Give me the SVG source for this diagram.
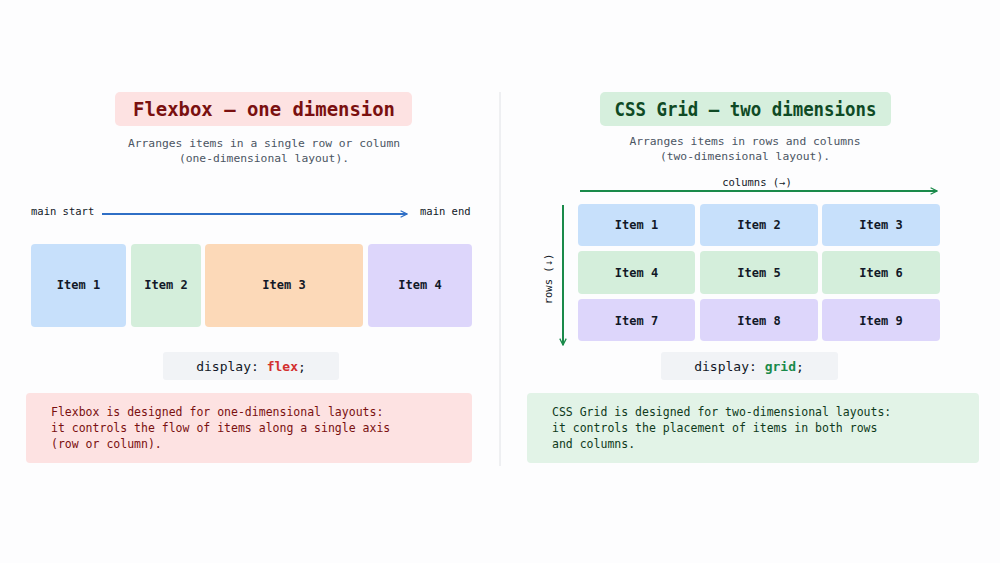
<svg xmlns="http://www.w3.org/2000/svg" width="1000" height="563" viewBox="0 0 1000 563">
<defs>
<style>
text{font-family:"DejaVu Sans Mono","Liberation Mono",monospace}
.title{font-size:19px;font-weight:bold;text-anchor:middle}
.sub{font-size:11.3px;fill:#4b5563;text-anchor:middle}
.item{font-size:12px;font-weight:bold;fill:#111827;text-anchor:middle}
.lbl{font-size:10.5px;fill:#111827}
.code{font-size:13px;fill:#111827;text-anchor:middle}
.desc{font-size:11.5px}
.blue{fill:#c7e0fb}.green{fill:#d4eedb}.orange{fill:#fcd9b8}.purple{fill:#ddd6fb}
</style>
<marker id="ab" viewBox="0 0 10 10" refX="9" refY="5" markerWidth="8" markerHeight="8" orient="auto" markerUnits="userSpaceOnUse"><path d="M1,1 L9,5 L1,9" fill="none" stroke="#2f6fc6" stroke-width="1.6"/></marker>
<marker id="ag" viewBox="0 0 10 10" refX="9" refY="5" markerWidth="8" markerHeight="8" orient="auto" markerUnits="userSpaceOnUse"><path d="M1,1 L9,5 L1,9" fill="none" stroke="#1a8a4a" stroke-width="1.6"/></marker>
</defs>
<rect width="1000" height="563" fill="#fdfdfe"/>
<line x1="500" y1="92" x2="500" y2="466" stroke="#e0e2e6" stroke-width="1"/>
<g id="flex-title"><rect x="115" y="92" width="297" height="34" rx="5" fill="#fde2e2"/><text class="title" x="264" y="116" fill="#7a1010" textLength="262" lengthAdjust="spacingAndGlyphs">Flexbox – one dimension</text></g>
<g id="flex-sub"><text class="sub" x="264" y="147">Arranges items in a single row or column</text><text class="sub" x="264" y="162">(one-dimensional layout).</text></g>
<g id="connectors">
<line x1="102" y1="214" x2="407" y2="214" stroke="#2f6fc6" stroke-width="2" marker-end="url(#ab)"/>
<line x1="580" y1="191" x2="937" y2="191" stroke="#1a8a4a" stroke-width="2" marker-end="url(#ag)"/>
<line x1="563" y1="205" x2="563" y2="345" stroke="#1a8a4a" stroke-width="2" marker-end="url(#ag)"/>
</g>
<text class="lbl" x="31" y="215">main start</text>
<text class="lbl" x="420" y="215">main end</text>
<g id="f1"><rect class="blue" x="31" y="244" width="95" height="83" rx="4"/><text class="item" x="78.5" y="289">Item 1</text></g>
<g id="f2"><rect class="green" x="131" y="244" width="70" height="83" rx="4"/><text class="item" x="166" y="289">Item 2</text></g>
<g id="f3"><rect class="orange" x="205" y="244" width="158" height="83" rx="4"/><text class="item" x="284" y="289">Item 3</text></g>
<g id="f4"><rect class="purple" x="368" y="244" width="104" height="83" rx="4"/><text class="item" x="420" y="289">Item 4</text></g>
<g id="flex-code"><rect x="163" y="352" width="176" height="28" rx="3" fill="#f1f3f6"/><text class="code" x="251" y="371">display: <tspan fill="#d32f2f" font-weight="bold">flex</tspan>;</text></g>
<g id="flex-desc"><rect x="26" y="393" width="446" height="70" rx="4" fill="#fde2e2"/>
<text class="desc" fill="#7a1010" x="51" y="416">Flexbox is designed for one-dimensional layouts:</text>
<text class="desc" fill="#7a1010" x="51" y="432">it controls the flow of items along a single axis</text>
<text class="desc" fill="#7a1010" x="51" y="448">(row or column).</text></g>
<g id="grid-title"><rect x="600" y="92" width="291" height="34" rx="5" fill="#d6efdd"/><text class="title" x="745.5" y="116" fill="#0f4a25" textLength="262" lengthAdjust="spacingAndGlyphs">CSS Grid – two dimensions</text></g>
<g id="grid-sub"><text class="sub" x="745" y="145">Arranges items in rows and columns</text><text class="sub" x="745" y="160">(two-dimensional layout).</text></g>
<text class="lbl" x="757" y="186" text-anchor="middle">columns (→)</text>
<text class="lbl" x="552" y="279" text-anchor="middle" transform="rotate(-90 552 279)">rows (↓)</text>
<g id="g1"><rect class="blue" x="578" y="204" width="117" height="42" rx="4"/><text class="item" x="636.5" y="229">Item 1</text></g>
<g id="g2"><rect class="blue" x="700" y="204" width="118" height="42" rx="4"/><text class="item" x="759" y="229">Item 2</text></g>
<g id="g3"><rect class="blue" x="822" y="204" width="118" height="42" rx="4"/><text class="item" x="881" y="229">Item 3</text></g>
<g id="g4"><rect class="green" x="578" y="251" width="117" height="43" rx="4"/><text class="item" x="636.5" y="277">Item 4</text></g>
<g id="g5"><rect class="green" x="700" y="251" width="118" height="43" rx="4"/><text class="item" x="759" y="277">Item 5</text></g>
<g id="g6"><rect class="green" x="822" y="251" width="118" height="43" rx="4"/><text class="item" x="881" y="277">Item 6</text></g>
<g id="g7"><rect class="purple" x="578" y="299" width="117" height="42" rx="4"/><text class="item" x="636.5" y="325">Item 7</text></g>
<g id="g8"><rect class="purple" x="700" y="299" width="118" height="42" rx="4"/><text class="item" x="759" y="325">Item 8</text></g>
<g id="g9"><rect class="purple" x="822" y="299" width="118" height="42" rx="4"/><text class="item" x="881" y="325">Item 9</text></g>
<g id="grid-code"><rect x="661" y="352" width="177" height="28" rx="3" fill="#f1f3f6"/><text class="code" x="749" y="371">display: <tspan fill="#1a8a4a" font-weight="bold">grid</tspan>;</text></g>
<g id="grid-desc"><rect x="527" y="393" width="452" height="70" rx="4" fill="#e2f3e7"/>
<text class="desc" fill="#0f3a20" x="552" y="416">CSS Grid is designed for two-dimensional layouts:</text>
<text class="desc" fill="#0f3a20" x="552" y="432">it controls the placement of items in both rows</text>
<text class="desc" fill="#0f3a20" x="552" y="448">and columns.</text></g>
</svg>
